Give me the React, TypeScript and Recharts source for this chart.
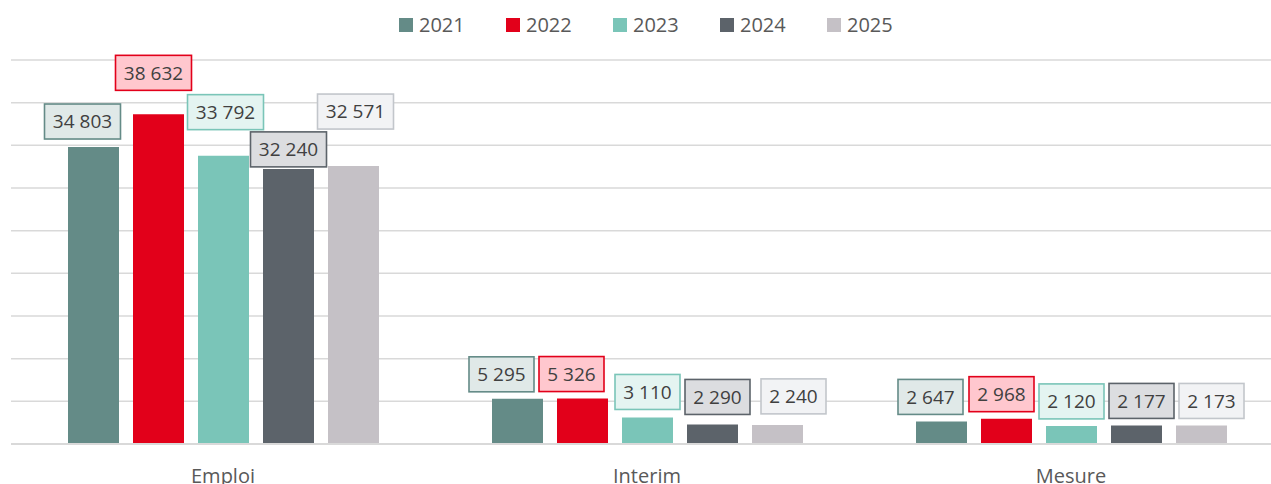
import React from "react";
import { BarChart, Bar, XAxis, YAxis, CartesianGrid, LabelList } from "recharts";

const categories = ["Emploi", "Interim", "Mesure"];
const years = ["2021", "2022", "2023", "2024", "2025"];
const values2021 = [34803, 5295, 2647];
const values2022 = [38632, 5326, 2968];
const values2023 = [33792, 3110, 2120];
const values2024 = [32240, 2290, 2177];
const values2025 = [32571, 2240, 2173];
const yTicks = [0, 5000, 10000, 15000, 20000, 25000, 30000, 35000, 40000, 45000];

const seriesValues = [values2021, values2022, values2023, values2024, values2025];

// styles
const barColors = ["#648b87", "#e2001a", "#7ac5b8", "#5c636a", "#c5c1c6"];
const boxStroke = ["#648b87", "#e2001a", "#7ac5b8", "#5c636a", "#c2c6cb"];
const boxFill = ["#e0e9e8", "#ffc7ce", "#e4f4f1", "#dcdde0", "#f2f3f5"];
// manual label placement (Excel-style nudges): [series][category]
const labelNudgeX = [
  [-11, -16, -11],
  [-5, -11, -5],
  [2, 0, 0],
  [0, 5, 5],
  [2, 16, 10],
];
const labelGap = [
  [8, 7, 7],
  [24, 7, 7],
  [26, 8, 7],
  [2, 10, 7],
  [37, 11, 7],
];

const data = categories.map((c, i) => {
  const row: any = { category: c };
  years.forEach((y, s) => {
    row["y" + y] = seriesValues[s][i];
  });
  return row;
});

const fmt = (v: number) => String(v).replace(/\B(?=(\d{3})+(?!\d))/g, " ");

const FONT = "'Open Sans', 'Noto Sans', sans-serif";

const makeLabel = (s: number) => (props: any) => {
  const { x, y, width, value, index } = props;
  const cx = Number(x) + Number(width) / 2 + labelNudgeX[s][index];
  const h = 35;
  const w = String(value).length >= 5 ? 76 : 65;
  const bottom = Number(y) - labelGap[s][index];
  const fs = 19;
  return (
    <g>
      <rect
        x={cx - w / 2}
        y={bottom - h}
        width={w}
        height={h}
        fill={boxFill[s]}
        stroke={boxStroke[s]}
        strokeWidth={1.6}
      />
      <text
        x={cx}
        y={bottom - h / 2 + fs * 0.36}
        textAnchor="middle"
        fontSize={fs}
        fontFamily={FONT}
        fill="#404040"
      >
        {fmt(value)}
      </text>
    </g>
  );
};

const CategoryTick = (props: any) => {
  const { x, y, payload } = props;
  return (
    <text
      x={x}
      y={Number(y) + 39}
      textAnchor="middle"
      fontSize={20}
      fontFamily={FONT}
      fill="#595959"
    >
      {payload.value}
    </text>
  );
};

export default function App() {
  return (
    <div
      style={{
        position: "fixed",
        left: 0,
        top: 0,
        width: 1271,
        height: 484,
        overflow: "hidden",
        background: "#ffffff",
      }}
    >
      <BarChart
        width={1290}
        height={484}
        data={data}
        margin={{ top: 60, right: 7, bottom: 0, left: 11 }}
        barSize={51}
        barGap={14}
      >
        <CartesianGrid vertical={false} stroke="#d9d9d9" strokeWidth={1.5} />
        <YAxis hide domain={[0, 45000]} ticks={yTicks} width={0} />
        <XAxis
          dataKey="category"
          height={40}
          tickLine={false}
          tickSize={0}
          tickMargin={0}
          axisLine={{ stroke: "#d9d9d9", strokeWidth: 2 }}
          tick={<CategoryTick />}
          interval={0}
        />
        {years.map((y, s) => (
          <Bar
            key={y}
            dataKey={"y" + y}
            name={y}
            fill={barColors[s]}
            isAnimationActive={false}
          >
            <LabelList dataKey={"y" + y} content={makeLabel(s)} />
          </Bar>
        ))}
      </BarChart>
      <div
        style={{
          position: "absolute",
          left: 399,
          top: 11,
          display: "flex",
          alignItems: "center",
          gap: 41,
          fontFamily: FONT,
          fontSize: 20,
          color: "#595959",
          lineHeight: "28px",
        }}
      >
        {years.map((y, s) => (
          <div key={y} style={{ display: "flex", alignItems: "center", width: 66 }}>
            <span
              style={{
                display: "inline-block",
                width: 14,
                height: 14,
                background: barColors[s],
                marginRight: 6,
              }}
            />
            <span>{y}</span>
          </div>
        ))}
      </div>
    </div>
  );
}
